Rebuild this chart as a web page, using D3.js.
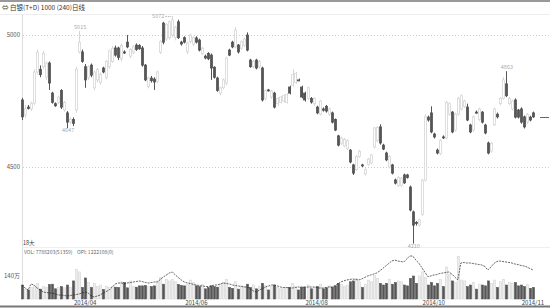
<!DOCTYPE html>
<html>
<head>
<meta charset="utf-8">
<script src="https://cdn.jsdelivr.net/npm/d3@7"></script>
<style>
  body { margin: 0; background: #fff; }
  svg { display: block; font-family: "Noto Sans CJK SC", "DejaVu Sans", sans-serif; }
</style>
</head>
<body>
<svg width="550" height="308"></svg>
<script>
// daily candles, white/hollow = up, dark = down
var opens  = [4754,4697,4727,4720,4742,4860,4870,4880,4841,4894,4780,4740,4745,4790,4716,4705,4670,4680,4716,4936,
              4936,4880,4840,4886,4800,4830,4820,4875,4840,4880,4900,4951,4951,4910,4936,4973,4920,4935,4962,4960,
              4951,4886,4805,4837,4833,4825,4935,5045,4985,4990,5000,4990,5050,4973,4990,4936,4975,4965,4989,4981,
              4930,4920,4930,4924,4878,4837,4780,4800,4818,4943,4973,4955,4962,4950,4960,5000,4905,4880,4905,4880,
              4875,4760,4792,4765,4780,4740,4745,4750,4745,4803,4810,4820,4830,4803,4780,4760,4760,4740,4727,4700,
              4720,4730,4700,4705,4680,4618,4590,4580,4570,4564,4508,4490,4540,4508,4475,4510,4515,4576,4600,4652,
              4583,4553,4500,4508,4451,4430,4430,4470,4470,4424,4330,4290,4280,4320,4450,4689,4705,4625,4564,4550,
              4614,4610,4700,4708,4640,4700,4720,4730,4727,4659,4640,4708,4680,4708,4659,4591,4560,4660,4700,4740,
              4760,4815,4740,4720,4754,4716,4720,4690,4670,4689,4705];
var highs  = [4762,4735,4735,4748,4870,4945,4885,4940,4900,4900,4785,4745,4770,4795,4750,4712,4690,4688,4880,5015,
              4945,4890,4885,4892,4865,4875,4858,4880,4905,4945,4958,4960,4956,4968,4942,5000,4950,4962,4968,4965,
              4958,4890,4842,4845,4840,4865,4980,5050,5045,5055,5072,5035,5058,4978,4995,4975,5005,4995,4995,4986,
              4955,4926,4935,4930,4882,4842,4805,4835,4918,4948,4978,5030,4966,4980,4990,5010,4910,4905,4910,4905,
              4880,4795,4796,4792,4785,4765,4770,4775,4780,4808,4870,4860,4835,4808,4785,4805,4765,4765,4732,4755,
              4726,4735,4725,4710,4684,4622,4615,4610,4605,4568,4512,4545,4565,4512,4495,4535,4550,4652,4655,4662,
              4588,4558,4545,4512,4456,4465,4462,4475,4474,4430,4335,4295,4305,4455,4700,4695,4730,4630,4570,4605,
              4620,4750,4745,4712,4705,4765,4775,4755,4740,4664,4695,4714,4725,4712,4664,4596,4595,4725,4706,4765,
              4840,4863,4765,4755,4760,4720,4726,4695,4705,4694,4710];
var lows   = [4678,4685,4718,4712,4735,4850,4840,4872,4830,4792,4740,4728,4738,4720,4710,4647,4662,4655,4705,4930,
              4895,4800,4830,4840,4790,4820,4812,4855,4832,4872,4895,4918,4905,4900,4928,4950,4912,4928,4940,4944,
              4880,4825,4798,4820,4792,4818,4928,4965,4978,4982,4992,4980,4985,4960,4968,4928,4968,4958,4968,4938,
              4924,4908,4905,4830,4835,4785,4772,4795,4810,4920,4950,4950,4930,4944,4955,4938,4876,4874,4870,4872,
              4748,4752,4786,4758,4722,4732,4740,4744,4740,4775,4805,4815,4825,4760,4748,4755,4740,4732,4700,4695,
              4710,4706,4694,4665,4636,4578,4584,4575,4565,4514,4470,4485,4535,4500,4468,4505,4510,4570,4595,4585,
              4564,4522,4495,4472,4434,4424,4425,4436,4456,4332,4210,4278,4274,4315,4445,4672,4628,4608,4548,4545,
              4606,4604,4694,4628,4634,4694,4714,4724,4674,4628,4634,4702,4674,4665,4624,4548,4555,4655,4684,4734,
              4755,4765,4735,4714,4684,4684,4664,4646,4664,4673,4686];
var closes = [4690,4720,4722,4742,4860,4935,4850,4930,4894,4818,4745,4732,4765,4727,4745,4670,4680,4665,4870,4973,
              4900,4830,4880,4848,4860,4870,4850,4860,4900,4940,4950,4924,4915,4960,4932,4955,4945,4955,4945,4948,
              4886,4830,4837,4827,4822,4860,4975,4973,5040,5050,5057,5030,4990,4966,4973,4970,5000,4990,4973,4943,
              4950,4913,4910,4875,4840,4790,4800,4830,4913,4924,4955,5019,4936,4975,4985,4943,4880,4900,4875,4900,
              4754,4790,4790,4788,4727,4760,4765,4770,4775,4780,4850,4855,4829,4765,4754,4800,4746,4760,4705,4750,
              4715,4712,4720,4670,4640,4583,4610,4605,4600,4519,4477,4540,4560,4506,4490,4530,4545,4648,4650,4591,
              4568,4527,4540,4477,4439,4460,4458,4440,4460,4337,4280,4286,4300,4450,4690,4678,4633,4614,4553,4600,
              4612,4745,4740,4633,4700,4760,4770,4750,4678,4633,4690,4707,4720,4670,4629,4553,4590,4720,4690,4760,
              4830,4770,4760,4750,4689,4689,4670,4652,4700,4678,4690];
// volume in 万手
var volumes = [85,60,55,70,80,95,60,75,70,88, 90,62,70,75,68,85,70,110,180,165,
               70,128,100,70,95,75,85,58,78,72, 75,72,70,105,100,68,110,75,72,80,
               80,82,78,75,80,110,130,90,120,110, 120,105,88,82,80,90,115,100,80,75,
               90,62,70,80,75,72,90,100,120,70, 65,105,60,80,75,90,70,85,62,78,
               95,80,55,75,85,70,62,68,72,70, 95,78,55,70,72,85,62,72,75,90,
               62,68,80,72,80,95,88,78,85,105, 110,125,105,70,90,115,105,145,125,95,
               85,95,120,90,100,110,105,85,80,125, 140,95,140,165,130,85,100,80,95,120,
               75,195,150,110,100,260,115,110,75,85, 100,60,90,85,80,110,95,115,70,105,
               120,85,100,95,100,80,85,75,90,65, 70];
// open interest (万手)
var opi = [110,104,100,112,110,104,100,96,95,94, 94,92,90,90,89,88,89,90,91,92,
           94,96,94,88,86,88,90,94,97,100, 106,112,114,114,113,114,115,116,117,118,
           117,115,114,115,116,116,121,126,130,134, 136,130,125,120,116,114,113,111,110,109,
           108,107,107,108,110,110,112,114,113,112, 110,109,108,107,106,106,102,98,96,100,
           103,106,108,110,110,108,106,105,105,104, 104,105,106,106,106,106,106,106,105,104,
           104,105,106,106,108,112,116,118,120,121, 122,121,120,122,125,128,130,132,134,138,
           143,148,153,158,160,158,157,156,162,168, 168,160,154,145,136,127,128,130,131,133,
           134,135,136,132,126,120,154,155,154,154, 153,152,151,150,147,140,146,153,157,158,
           157,156,155,154,152,151,149,148,146,143, 140];

var priceTicks = [5000, 4500];
var monthIdx = [21, 58, 98, 137, 170];
var monthLabels = ["2014/04", "2014/06", "2014/08", "2014/10", "2014/11"];
// highs / lows that carry a value label
var markIdx  = [19, 15, 50, 130, 161];
var markType = ["high", "low", "high", "low", "high"];

var N = closes.length;
var svg = d3.select("svg");

var x = d3.scaleBand().domain(d3.range(N)).range([21, 21 + 3 * N]).paddingInner(0.3).paddingOuter(0);
var cx = function(i) { return x(i) + x.bandwidth() / 2; };
var y = d3.scaleLinear().domain([4205, 5080]).range([244.9, 13.9]);
var yv = d3.scaleLinear().domain([0, 140]).range([299, 276]);
var yo = d3.scaleLinear().domain([80, 180]).range([300, 250]);

var dark = "#555", light = "#d6d6d6";

// frame
svg.append("line").attr("x1", 0).attr("x2", 550).attr("y1", 1).attr("y2", 1)
    .attr("stroke", "#999").attr("stroke-width", 2);
svg.append("line").attr("x1", 0).attr("x2", 550).attr("y1", 14.5).attr("y2", 14.5)
    .attr("stroke", "#eee");
svg.append("text").attr("x", 2).attr("y", 10).attr("font-size", 6.5).attr("fill", "#333")
    .text("⇔ 白银(T+D) 1000 (240)日线");
svg.append("line").attr("x1", 22.5).attr("x2", 22.5).attr("y1", 15).attr("y2", 299)
    .attr("stroke", "#ddd");
svg.append("line").attr("x1", 22).attr("x2", 550).attr("y1", 247.5).attr("y2", 247.5)
    .attr("stroke", "#eee");
svg.append("line").attr("x1", 0).attr("x2", 550).attr("y1", 306.5).attr("y2", 306.5)
    .attr("stroke", "#777").attr("stroke-width", 2);

// price grid + labels
svg.selectAll(".pgrid").data(priceTicks).enter().append("line")
    .attr("x1", 23).attr("x2", 550)
    .attr("y1", function(d) { return Math.round(y(d)) + 0.5; })
    .attr("y2", function(d) { return Math.round(y(d)) + 0.5; })
    .attr("stroke", "#ccc").attr("stroke-dasharray", "1,2");
svg.selectAll(".plab").data(priceTicks).enter().append("text")
    .attr("x", 20).attr("y", function(d) { return y(d) + 2; })
    .attr("text-anchor", "end").attr("font-size", 6).attr("fill", "#555")
    .text(function(d) { return d; });

// candles
var candle = svg.append("g").selectAll("g").data(d3.range(N)).enter().append("g");
candle.append("line")
    .attr("x1", function(i) { return Math.round(cx(i)) + 0.5; })
    .attr("x2", function(i) { return Math.round(cx(i)) + 0.5; })
    .attr("y1", function(i) { return y(highs[i]); })
    .attr("y2", function(i) { return y(lows[i]); })
    .attr("stroke", function(i) { return closes[i] >= opens[i] ? light : dark; });
candle.append("rect")
    .attr("x", function(i) { return Math.round(x(i)) + 0.5; })
    .attr("width", 2)
    .attr("y", function(i) { return y(Math.max(opens[i], closes[i])); })
    .attr("height", function(i) { return Math.max(1, Math.abs(y(opens[i]) - y(closes[i]))); })
    .attr("fill", function(i) { return closes[i] >= opens[i] ? "#fff" : dark; })
    .attr("stroke", function(i) { return closes[i] >= opens[i] ? light : dark; })
    .attr("stroke-width", 0.8);

// value labels on highs/lows
svg.selectAll(".mark").data(markIdx).enter().append("text")
    .attr("x", function(d, k) { return d === 50 ? cx(d) - 8 : cx(d) + 1; })
    .attr("y", function(d, k) { return markType[k] === "high" ? y(highs[d]) - (d === 50 ? -2 : 2) : y(lows[d]) + 4; })
    .attr("text-anchor", function(d) { return d === 50 ? "end" : "middle"; })
    .attr("font-size", 5.5).attr("fill", "#aaa")
    .text(function(d, k) { return markType[k] === "high" ? highs[d] : lows[d]; });
svg.append("line").attr("x1", cx(50) - 7).attr("x2", cx(50) - 1)
    .attr("y1", y(highs[50]) + 0.5).attr("y2", y(highs[50]) + 0.5)
    .attr("stroke", "#bbb").attr("stroke-dasharray", "1.5,1");

// last price marker
svg.append("line").attr("x1", 540).attr("x2", 549)
    .attr("y1", Math.round(y(closes[N - 1])) + 0.5).attr("y2", Math.round(y(closes[N - 1])) + 0.5)
    .attr("stroke", "#666");

// volume panel texts
svg.append("text").attr("x", 23).attr("y", 245).attr("font-size", 5.5).attr("fill", "#333").text("18大");
svg.append("text").attr("x", 24).attr("y", 254).attr("font-size", 5).attr("fill", "#666")
    .text("VOL: 7788203(51359)");
svg.append("text").attr("x", 77).attr("y", 254).attr("font-size", 5).attr("fill", "#666")
    .text("OPI: 1222108(0)");
svg.append("text").attr("x", 20).attr("y", yv(140) + 2).attr("text-anchor", "end")
    .attr("font-size", 6).attr("fill", "#555").text("140万");

// volume bars
svg.append("g").selectAll("rect").data(d3.range(N)).enter().append("rect")
    .attr("x", function(i) { return Math.round(x(i)) + 0.5; })
    .attr("width", 2)
    .attr("y", function(i) { return yv(volumes[i]); })
    .attr("height", function(i) { return yv(0) - yv(volumes[i]); })
    .attr("fill", function(i) { return closes[i] >= opens[i] ? "#eee" : dark; })
    .attr("stroke", function(i) { return closes[i] >= opens[i] ? "#d6d6d6" : dark; })
    .attr("stroke-width", 0.6);

// open interest line
svg.append("path").datum(d3.range(N))
    .attr("d", d3.line().x(function(i) { return cx(i); }).y(function(i) { return yo(opi[i]); }))
    .attr("fill", "none").attr("stroke", "#222").attr("stroke-width", 0.7)
    .attr("stroke-dasharray", "2,1");

// month labels
svg.selectAll(".mlab").data(monthIdx).enter().append("text")
    .attr("x", function(d) { return Math.min(cx(d), 538); })
    .attr("y", 304.5)
    .attr("text-anchor", "middle").attr("font-size", 6).attr("fill", "#444")
    .text(function(d, k) { return monthLabels[k]; });
</script>
</body>
</html>
